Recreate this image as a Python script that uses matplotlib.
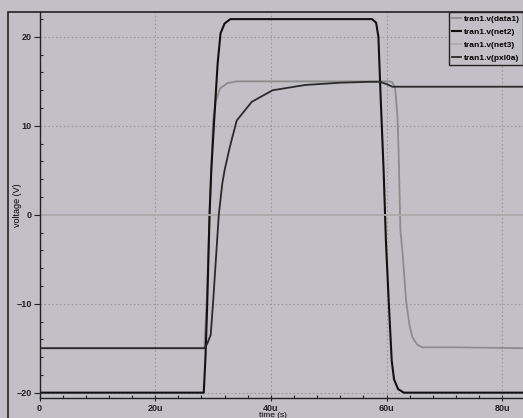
import matplotlib
matplotlib.use("Agg")
import matplotlib.pyplot as plt
from matplotlib.patches import Rectangle
from matplotlib.ticker import MultipleLocator

# time in microseconds, voltage in volts
t_data1 = [0, 28.5, 28.9, 29.4, 29.7, 30.0, 30.5, 31.2, 32.5, 34.0, 45.0, 60.5, 61.0, 61.5, 61.9, 62.1, 62.4, 62.8, 63.4, 64.0, 64.5, 65.3, 66.2, 72.0, 83.6]
v_data1 = [-15, -15, -10, 0, 5, 10.6, 12.8, 14.2, 14.8, 15.0, 15.0, 15.0, 14.9, 14.2, 11, 7, -1.7, -4.5, -9.8, -12.5, -13.8, -14.6, -14.9, -14.9, -15.0]

t_net2 = [0, 28.4, 28.7, 29.0, 29.4, 29.7, 30.2, 30.8, 31.3, 32.0, 33.0, 57.5, 58.2, 58.6, 59.0, 59.5, 59.9, 60.4, 60.9, 61.3, 62.0, 63.0, 83.6]
v_net2 = [-20, -20, -16, -10, 0, 5, 10.6, 17, 20.4, 21.5, 22, 22, 21.6, 20, 13, 5, -3, -10, -16.4, -18.5, -19.6, -20, -20]

t_net3 = [0, 83.6]
v_net3 = [0, 0]

t_pxl0a = [0, 28.5, 29.0, 29.6, 30.0, 30.6, 31.0, 31.6, 32.0, 32.9, 34.1, 36.7, 40.3, 46.0, 52.0, 57.0, 58.8, 60.0, 61.0, 83.6]
v_pxl0a = [-15, -15, -14.5, -13.5, -10, -4, 0, 3.5, 5.0, 7.6, 10.6, 12.7, 14.0, 14.6, 14.85, 14.95, 14.95, 14.7, 14.4, 14.4]

bg = "#c2c0c6"
plt.rcParams['font.family'] = ['Liberation Sans', 'DejaVu Sans']
plt.rcParams['font.size'] = 6.5
plt.rcParams['font.weight'] = 'bold'

fig = plt.figure(figsize=(5.23, 4.18), dpi=100, facecolor=bg)
ax = fig.add_axes([39.5 / 523, 20 / 418, 1 - 39.5 / 523, 386 / 418])
ax.set_facecolor(bg)

# outer frame of the viewer window
fig.patches.append(Rectangle((8 / 523, -0.1), 1.1, 1.1 - 12 / 418, transform=fig.transFigure,
                             fill=False, edgecolor="#222222", linewidth=1.2, zorder=10))

ax.plot(t_data1, v_data1, color="#8c8c8c", lw=1.3, label="tran1.v(data1)")
ax.plot(t_net2, v_net2, color="#111111", lw=1.5, label="tran1.v(net2)")
ax.plot(t_net3, v_net3, color="#acacac", lw=1.3, label="tran1.v(net3)")
ax.plot(t_pxl0a, v_pxl0a, color="#2a2a2a", lw=1.3, label="tran1.v(pxl0a)")

ax.set_xlim(0, 83.6)
ax.set_ylim(-20.6, 22.8)
ax.xaxis.set_major_locator(MultipleLocator(20))
ax.xaxis.set_minor_locator(MultipleLocator(4))
ax.yaxis.set_major_locator(MultipleLocator(10))
ax.yaxis.set_minor_locator(MultipleLocator(2))
ax.set_xticks([0, 20, 40, 60, 80])
ax.set_xticklabels(["0", "20u", "40u", "60u", "80u"])
ax.grid(True, which="major", color="#9a9a9a", linestyle=(0, (1.5, 2)), linewidth=0.8)

ax.tick_params(which="major", direction="out", length=4, width=0.8, pad=1.5, colors="#222222")
ax.tick_params(which="minor", direction="in", length=2, width=0.8, colors="#222222")
ax.tick_params(axis="x", which="major", direction="inout", length=5)

for s in ["top", "right"]:
    ax.spines[s].set_visible(False)
for s in ["left", "bottom"]:
    ax.spines[s].set_color("#222222")
    ax.spines[s].set_linewidth(1.0)

ax.set_xlabel("time (s)", fontsize=6)
ax.xaxis.set_label_coords(0.482, -0.0375)
ax.set_ylabel("voltage (V)", fontsize=6.5)
ax.yaxis.set_label_coords(-0.036, 0.5)

leg = ax.legend(loc="upper right", bbox_to_anchor=(1.0, 1.0), borderaxespad=0, frameon=True,
                fancybox=False, handlelength=1.1, handletextpad=0.3, labelspacing=0.62,
                borderpad=0.4, fontsize=6)
leg.get_frame().set_facecolor(bg)
leg.get_frame().set_edgecolor("#222222")
leg.get_frame().set_alpha(1)
leg.get_frame().set_linewidth(1.0)

fig.savefig("out.png", dpi=100, facecolor=bg)
